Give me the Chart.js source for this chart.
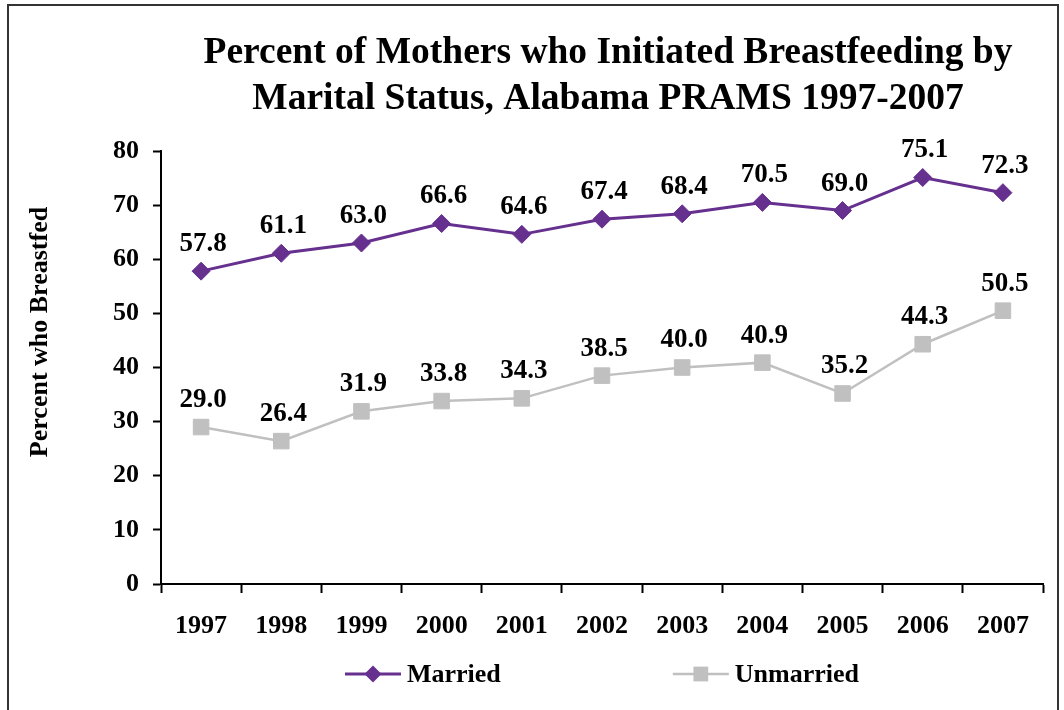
<!DOCTYPE html>
<html>
<head>
<meta charset="utf-8">
<script src="https://cdn.jsdelivr.net/npm/chart.js@4.4.1/dist/chart.umd.min.js"></script>
<style>
  html, body { margin: 0; padding: 0; background: #fff; overflow: hidden; }
  #wrap { position: relative; width: 1064px; height: 710px; }
  #wrap canvas { position: absolute; left: 0; top: 0; }
  #frame { position: absolute; left: 7px; top: 4px; width: 1052px; height: 760px;
           border: 2px solid #333; box-sizing: border-box; pointer-events: none; }
</style>
</head>
<body>
<div id="wrap">
  <canvas id="chart" width="1064" height="710"></canvas>
  <div id="frame"></div>
</div>
<script>
// Breastfeeding initiation (%) by marital status, Alabama PRAMS
const years = ['1997', '1998', '1999', '2000', '2001', '2002', '2003', '2004', '2005', '2006', '2007'];
const married = [57.8, 61.1, 63.0, 66.6, 64.6, 67.4, 68.4, 70.5, 69.0, 75.1, 72.3];
const unmarried = [29.0, 26.4, 31.9, 33.8, 34.3, 38.5, 40.0, 40.9, 35.2, 44.3, 50.5];
const yTicks = [0, 10, 20, 30, 40, 50, 60, 70, 80];

const titleLines = ['Percent of Mothers who Initiated Breastfeeding by', 'Marital Status, Alabama PRAMS 1997-2007'];
const yTitle = 'Percent who Breastfed';

const FONT = '"Liberation Serif", "Times New Roman", serif';
const PURPLE = '#66308f';
const GREY = '#c0c0c0';

// Two-line heading above the plot
const heading = {
  id: 'heading',
  afterDraw(chart) {
    const ctx = chart.ctx;
    ctx.save();
    ctx.font = 'bold 37.5px ' + FONT;
    ctx.fillStyle = '#000';
    ctx.textAlign = 'center';
    ctx.textBaseline = 'alphabetic';
    titleLines.forEach((line, i) => ctx.fillText(line, 608, 63 + i * 46));
    ctx.restore();
  }
};

// Value printed above every point
const valueLabels = {
  id: 'valueLabels',
  afterDatasetsDraw(chart) {
    const ctx = chart.ctx;
    ctx.save();
    ctx.font = 'bold 27px ' + FONT;
    ctx.fillStyle = '#000';
    ctx.textAlign = 'center';
    ctx.textBaseline = 'middle';
    chart.data.datasets.forEach((ds, i) => {
      chart.getDatasetMeta(i).data.forEach((pt, j) => {
        ctx.fillText(ds.data[j].toFixed(1), pt.x + 2, pt.y - 27);
      });
    });
    ctx.restore();
  }
};

// Rotated y-axis title
const yAxisTitle = {
  id: 'yAxisTitle',
  afterDraw(chart) {
    const ctx = chart.ctx;
    ctx.save();
    ctx.translate(40, 332);
    ctx.rotate(-Math.PI / 2);
    ctx.font = 'bold 26px ' + FONT;
    ctx.fillStyle = '#000';
    ctx.textAlign = 'center';
    ctx.textBaseline = 'middle';
    ctx.fillText(yTitle, 0, 0);
    ctx.restore();
  }
};

function drawMarker(ctx, style, x, y, r, color) {
  ctx.fillStyle = color;
  ctx.beginPath();
  if (style === 'rectRot') {
    ctx.moveTo(x, y - r); ctx.lineTo(x + r, y); ctx.lineTo(x, y + r); ctx.lineTo(x - r, y);
  } else {
    const s = r * Math.SQRT1_2;
    ctx.rect(x - s, y - s, 2 * s, 2 * s);
  }
  ctx.closePath();
  ctx.fill();
}

// Legend: line segment with the marker in its middle, then the label
const lineLegend = {
  id: 'lineLegend',
  afterDraw(chart) {
    const ctx = chart.ctx;
    const area = chart.chartArea;
    const lineLen = 56, gap = 6, itemGap = 172, y = 674;
    ctx.save();
    ctx.font = 'bold 26px ' + FONT;
    const items = chart.data.datasets.map(ds => ({ ds, w: lineLen + gap + ctx.measureText(ds.label).width }));
    const total = items.reduce((s, it) => s + it.w, 0) + itemGap * (items.length - 1);
    let x = (area.left + area.right) / 2 - total / 2;
    items.forEach(({ ds, w }) => {
      ctx.strokeStyle = ds.borderColor;
      ctx.lineWidth = ds.borderWidth;
      ctx.beginPath();
      ctx.moveTo(x, y);
      ctx.lineTo(x + lineLen, y);
      ctx.stroke();
      drawMarker(ctx, ds.pointStyle, x + lineLen / 2, y, ds.pointRadius * 0.95, ds.pointBackgroundColor);
      ctx.fillStyle = '#000';
      ctx.textAlign = 'left';
      ctx.textBaseline = 'middle';
      ctx.fillText(ds.label, x + lineLen + gap, y + 1);
      x += w + itemGap;
    });
    ctx.restore();
  }
};

new Chart(document.getElementById('chart'), {
  type: 'line',
  data: {
    labels: years,
    datasets: [
      {
        label: 'Married',
        data: married,
        borderColor: PURPLE,
        backgroundColor: PURPLE,
        borderWidth: 3,
        pointStyle: 'rectRot',
        pointRadius: 9,
        pointBackgroundColor: PURPLE,
        pointBorderColor: PURPLE,
        pointBorderWidth: 1,
        tension: 0
      },
      {
        label: 'Unmarried',
        data: unmarried,
        borderColor: GREY,
        backgroundColor: GREY,
        borderWidth: 2.5,
        pointStyle: 'rect',
        pointRadius: 11,
        pointBackgroundColor: GREY,
        pointBorderColor: GREY,
        pointBorderWidth: 1,
        tension: 0
      }
    ]
  },
  options: {
    responsive: false,
    animation: false,
    devicePixelRatio: 1,
    layout: { padding: { left: 0, right: 21, top: 151, bottom: 70 } },
    plugins: {
      legend: { display: false },
      tooltip: { enabled: false },
      title: { display: false }
    },
    scales: {
      x: {
        offset: true,
        grid: {
          offset: true,
          drawOnChartArea: false,
          drawTicks: true,
          tickLength: 9,
          tickWidth: 2,
          tickColor: '#000'
        },
        border: { display: true, color: '#000', width: 2 },
        ticks: {
          color: '#000',
          padding: 18,
          font: { family: FONT, size: 26, weight: 'bold' }
        },
        afterFit(scale) { scale.height = 56; }
      },
      y: {
        min: 0,
        max: 80,
        afterBuildTicks(scale) { scale.ticks = yTicks.map(v => ({ value: v })); },
        grid: {
          drawOnChartArea: false,
          drawTicks: true,
          tickLength: 8,
          tickWidth: 2,
          tickColor: '#000'
        },
        border: { display: true, color: '#000', width: 2 },
        ticks: {
          color: '#000',
          padding: 14,
          font: { family: FONT, size: 26, weight: 'bold' }
        },
        afterFit(scale) { scale.width = 161; }
      }
    }
  },
  plugins: [heading, valueLabels, yAxisTitle, lineLegend]
});
</script>
</body>
</html>
